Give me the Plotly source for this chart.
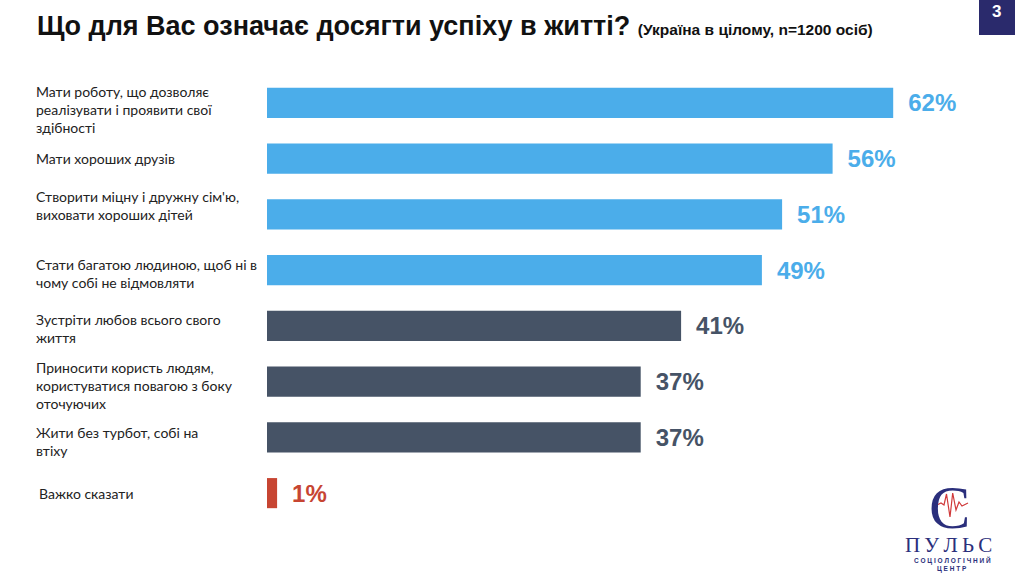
import plotly.graph_objects as go

W, H = 1024, 577

categories = [
    "Мати роботу, що дозволяє<br>реалізувати і проявити свої<br>здібності",
    "Мати хороших друзів",
    "Створити міцну і дружну сім'ю,<br>виховати хороших дітей",
    "Стати багатою людиною, щоб ні в<br>чому собі не відмовляти",
    "Зустріти любов всього свого<br>життя",
    "Приносити користь людям,<br>користуватися повагою з боку<br>оточуючих",
    "Жити без турбот, собі на<br>втіху",
    "Важко сказати",
]
values = [62, 56, 51, 49, 41, 37, 37, 1]

title_main = "Що для Вас означає досягти успіху в житті?"
title_sub = "(Україна в цілому, n=1200 осіб)"
page_no = "3"

# styles
bar_colors = ["#4BADEA", "#4BADEA", "#4BADEA", "#4BADEA",
              "#465366", "#465366", "#465366", "#C74532"]
label_yshift = [-7, 0, 9, -3, -3, -4, -4, 0]
label_x = [34, 34, 34, 34, 34, 34, 34, 37]

# layout geometry (pixels)
ML, MR, MT, MB = 267, 50, 75, 56
PW, PH = W - ML - MR, H - MT - MB


def px(x):
    return (x - ML) / PW


def py(y):
    return 1 - (y - MT) / PH


idx = list(range(len(categories)))

fig = go.Figure(go.Bar(
    x=values, y=idx, orientation="h",
    marker=dict(color=bar_colors, line=dict(width=0)),
    width=0.54,
    text=[f"{v}%" for v in values],
    texttemplate="\u2002<b>%{text}</b>",
    textposition="outside",
    textfont=dict(family="Liberation Sans, Arial", size=24, color=bar_colors),
    cliponaxis=False,
    hoverinfo="skip",
))

annotations = []
for i, c in enumerate(categories):
    annotations.append(dict(
        x=px(label_x[i]), xref="paper",
        y=i, yref="y", yshift=label_yshift[i], text=c, showarrow=False,
        xanchor="left", yanchor="middle", align="left",
        font=dict(family="Lato, Carlito, Noto Sans", size=14, color="#222222"),
    ))

annotations.append(dict(
    x=px(35), xref="paper", y=py(26), yref="paper",
    text=f"<b>{title_main}</b> <b><span style='font-size:15.5px'>{title_sub}</span></b>",
    showarrow=False, xanchor="left", yanchor="middle",
    font=dict(family="Liberation Sans, Arial", size=27, color="#111111"),
))

annotations.append(dict(
    x=px(997), xref="paper", y=py(11), yref="paper", text=f"<b>{page_no}</b>",
    showarrow=False, xanchor="center", yanchor="middle",
    font=dict(family="Liberation Sans, Arial", size=17, color="white"),
))

# logo texts
navy = "#2B2F7C"
annotations += [
    dict(x=px(949), xref="paper", y=py(507), yref="paper", text="С", showarrow=False,
         xanchor="center", yanchor="middle",
         font=dict(family="Liberation Serif, DejaVu Serif", size=62, color=navy)),
    dict(x=px(948), xref="paper", y=py(545), yref="paper", text="П\u2009У\u2009Л\u2009Ь\u2009С",
         showarrow=False, xanchor="center", yanchor="middle",
         font=dict(family="Liberation Serif, DejaVu Serif", size=21, color=navy)),
    dict(x=px(952), xref="paper", y=py(560), yref="paper",
         text="<b>С О Ц І О Л О Г І Ч Н И Й</b>", showarrow=False,
         xanchor="center", yanchor="middle",
         font=dict(family="Liberation Sans, Arial", size=6.5, color=navy)),
    dict(x=px(952), xref="paper", y=py(569), yref="paper", text="<b>Ц Е Н Т Р</b>",
         showarrow=False, xanchor="center", yanchor="middle",
         font=dict(family="Liberation Sans, Arial", size=6.5, color=navy)),
]

pulse = [(937, 505), (941, 503), (944, 505), (946.5, 494), (950, 517), (952.7, 493),
         (956, 510), (959, 502), (962, 506), (968, 503)]
path = "M " + " L ".join(f"{px(x):.5f},{py(y):.5f}" for x, y in pulse)

shapes = [
    dict(type="rect", xref="paper", yref="paper",
         x0=px(979), x1=px(1015), y0=py(0), y1=py(35),
         fillcolor="#2A2A6C", line=dict(width=0), layer="above"),
    dict(type="path", xref="paper", yref="paper", path=path,
         line=dict(color="#D0393A", width=1.2), layer="above"),
]

fig.update_layout(
    width=W, height=H, autosize=False,
    margin=dict(l=ML, r=MR, t=MT, b=MB),
    paper_bgcolor="white", plot_bgcolor="white",
    showlegend=False,
    xaxis=dict(range=[0, 70], visible=False, fixedrange=True),
    yaxis=dict(range=[len(categories) - 0.5, -0.5], visible=False, fixedrange=True),
    annotations=annotations,
    shapes=shapes,
)

fig.write_html(
    "out.html",
    config={"displayModeBar": False},
    post_script="document.body.style.margin='0px';document.body.style.overflow='hidden';",
)
